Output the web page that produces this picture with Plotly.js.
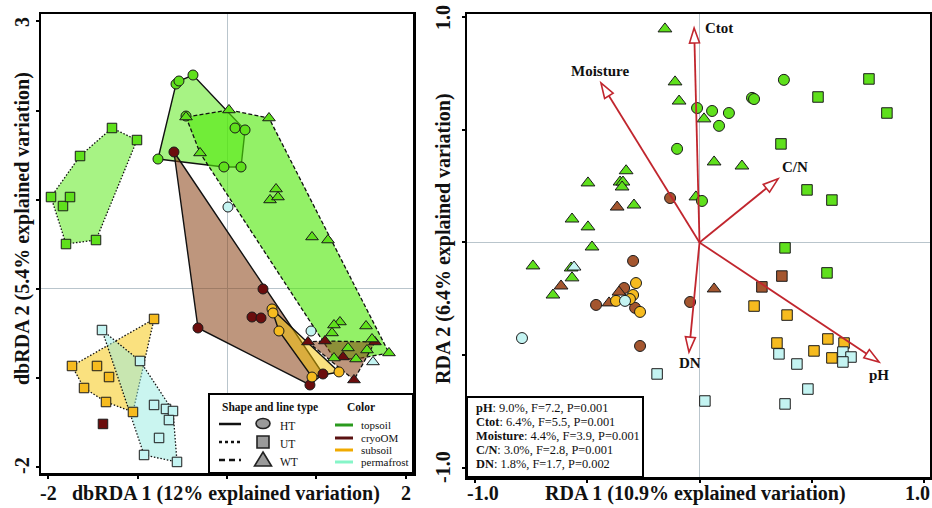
<!DOCTYPE html>
<html>
<head>
<meta charset="utf-8">
<script src="https://cdn.plot.ly/plotly-3.0.1.min.js"></script>
<style>
  html, body { margin: 0; padding: 0; background: #ffffff; }
  #chart { width: 932px; height: 508px; }
</style>
</head>
<body>
<div id="chart"></div>
<script>
// ---------------- dbRDA scores (left panel) ----------------
const dbTopHTx = [-0.571, -0.538, -0.381, -0.459, 0.090, 0.202, -0.773, -0.034, 0.157];
const dbTopHTy = [2.298, 2.332, 2.399, 1.939, 1.805, 1.783, 1.457, 1.368, 1.368];
const dbTopUTx = [-1.971, -1.837, -1.758, -1.646, -1.288, -1.008, -1.803, -1.467];
const dbTopUTy = [1.031, 0.930, 1.031, 1.491, 1.805, 1.670, 0.504, 0.549];
const dbTopWTx = [-0.459, 0.022, 0.470, -0.302, 0.549, 0.482, 0.571, 0.952, 1.131, 1.265, 1.198, 1.176, 1.557, 1.624, 1.355, 1.568, 1.814, 1.198, 1.445];
const dbTopWTy = [1.928, 2.007, 1.917, 1.525, 1.121, 0.998, 1.031, 0.583, 0.549, -0.370, -0.404, -0.493, -0.415, -0.561, -0.661, -0.684, -0.717, -0.774, -0.785];

const dbCryoHTx = [-0.594, 0.403, 0.280, 0.381, -0.325, 1.075, 0.929];
const dbCryoHTy = [1.536, 0.000, -0.314, -0.325, -0.437, -0.953, -1.076];
const dbCryoUTx = [-1.389];
const dbCryoUTy = [-1.513];
const dbCryoWTx = [0.907, 1.097, 1.299, 1.422, 1.657];
const dbCryoWTy = [-0.594, -0.583, -0.762, -1.020, -0.594];

const dbSubHTx = [0.504, 0.515, 0.582, 0.952, 1.254];
const dbSubHTy = [-0.224, -0.269, -0.471, -0.987, -0.930];
const dbSubUTx = [-0.817, -1.736, -1.456, -1.321, -1.601, -1.355, -1.053];
const dbSubUTy = [-0.336, -0.863, -0.863, -0.987, -1.110, -1.267, -1.379];

const dbPermHTx = [0.011, 0.941];
const dbPermHTy = [0.919, -0.471];
const dbPermUTx = [-1.400, -0.974, -0.817, -0.683, -0.605, -0.650, -0.761, -0.929, -0.560];
const dbPermUTy = [-0.460, -0.807, -1.300, -1.345, -1.368, -1.469, -1.670, -1.861, -1.939];
const dbPermWTx = [1.635];
const dbPermWTy = [-0.818];

// ---------------- RDA scores (right panel) ----------------
const rdaTopWTx = [-0.154, -0.109, -0.091, 0.020, 0.065, 0.189, -0.327, -0.354, -0.341, -0.345, -0.497, -0.292, -0.016, -0.568, -0.497, -0.479, -0.742, -0.572, -0.568, -0.653];
const rdaTopWTy = [0.947, 0.712, 0.627, 0.548, 0.357, 0.339, 0.318, 0.268, 0.268, 0.246, 0.264, 0.166, 0.202, 0.104, 0.069, -0.020, -0.104, -0.113, -0.157, -0.233];
const rdaTopHTx = [0.376, 0.234, 0.243, -0.011, 0.056, 0.131, 0.087, -0.100, 0.011];
const rdaTopHTy = [0.721, 0.641, 0.636, 0.596, 0.583, 0.574, 0.517, 0.415, 0.184];
const rdaTopUTx = [0.755, 0.528, 0.835, 0.363, 0.479, 0.590, 0.381, 0.568];
const rdaTopUTy = [0.725, 0.645, 0.574, 0.437, 0.233, 0.188, -0.024, -0.135];

const rdaCryoHTx = [-0.131, -0.296, -0.461, -0.336, -0.287, -0.265, -0.042];
const rdaCryoHTy = [0.197, -0.082, -0.277, -0.202, -0.290, -0.459, -0.264];
const rdaCryoWTx = [-0.367, -0.617, -0.403, -0.359, 0.065];
const rdaCryoWTy = [0.157, -0.193, -0.268, -0.220, -0.206];
const rdaCryoUTx = [0.367, 0.278];
const rdaCryoUTy = [-0.149, -0.197];

const rdaSubHTx = [-0.283, -0.296, -0.310, -0.372, -0.265];
const rdaSubHTy = [-0.180, -0.233, -0.251, -0.259, -0.308];
const rdaSubUTx = [0.243, 0.390, 0.345, 0.572, 0.644, 0.510, 0.590];
const rdaSubUTy = [-0.282, -0.322, -0.446, -0.428, -0.446, -0.481, -0.512];

const rdaPermHTx = [-0.332, -0.791];
const rdaPermHTy = [-0.259, -0.424];
const rdaPermWTx = [-0.559];
const rdaPermWTy = [-0.109];
const rdaPermUTx = [0.354, 0.434, 0.639, 0.675, 0.639, 0.483, 0.381, -0.189, 0.024];
const rdaPermUTy = [-0.494, -0.539, -0.486, -0.508, -0.530, -0.650, -0.716, -0.583, -0.703];

// ---------------- environmental vectors ----------------
const envNames = ['pH', 'Ctot', 'Moisture', 'C/N', 'DN'];
const envX = [0.800, -0.024, -0.439, 0.350, -0.047];
const envY = [-0.530, 0.951, 0.707, 0.282, -0.486];
const envPct = ['9.0%', '6.4%', '4.4%', '3.0%', '1.8%'];
const envF = ['7.2', '5.5', '3.9', '2.8', '1.7'];
const envP = ['0.001', '0.001', '0.001', '0.001', '0.002'];

// ---------------- legend entries ----------------
const typeNames = ['HT', 'UT', 'WT'];
const horizonNames = ['topsoil', 'cryoOM', 'subsoil', 'permafrost'];

// ---------------- styling ----------------
const W = 932, H = 508;
const FONT = 'Liberation Serif, Times New Roman, serif';
const COL = {
  top: '#5fe01c',
  cryoDark: '#6b0d0d',
  cryo: '#a4562f',
  sub: '#f6bb1f',
  perm: '#c4f4f2'
};
const FILL = {
  top: 'rgba(80,232,10,0.5)',
  topWT: 'rgba(80,232,10,0.62)',
  cryo: 'rgba(136,64,18,0.55)',
  sub: 'rgba(245,195,0,0.5)',
  perm: 'rgba(150,235,225,0.5)'
};
const legendLineCols = ['#2a9a1e', '#5a1212', '#f0aa00', '#86f5c8'];
const DASH = { HT: 'solid', UT: '1.5px,1.8px', WT: '4px,2.2px' };
const ARROW = '#c1262e';

// panel geometry (pixels) and axis ranges
const L = { x0: 41, x1: 413, y0: 14, y1: 473, xr: [-2.083, 2.083], yr: [-2.063, 3.083] };
const R = { x0: 467, x1: 930, y0: 14, y1: 477, xr: [-1.036, 1.027], yr: [-1.040, 1.013] };
const px = v => v / W;
const py = v => 1 - v / H;

// convex hull (monotone chain)
function hull(xs, ys) {
  const pts = xs.map((x, i) => [x, ys[i]]).sort((a, b) => a[0] - b[0] || a[1] - b[1]);
  const cross = (o, a, b) => (a[0] - o[0]) * (b[1] - o[1]) - (a[1] - o[1]) * (b[0] - o[0]);
  const lower = [], upper = [];
  for (const p of pts) {
    while (lower.length >= 2 && cross(lower[lower.length - 2], lower[lower.length - 1], p) <= 0) lower.pop();
    lower.push(p);
  }
  for (let i = pts.length - 1; i >= 0; i--) {
    const p = pts[i];
    while (upper.length >= 2 && cross(upper[upper.length - 2], upper[upper.length - 1], p) <= 0) upper.pop();
    upper.push(p);
  }
  const h = lower.slice(0, -1).concat(upper.slice(0, -1));
  h.push(h[0]);
  return { x: h.map(p => p[0]), y: h.map(p => p[1]) };
}

function hullTrace(xs, ys, fill, type) {
  const h = hull(xs, ys);
  return {
    type: 'scatter', mode: 'lines', x: h.x, y: h.y, xaxis: 'x', yaxis: 'y',
    fill: 'toself', fillcolor: fill,
    line: { color: '#111', width: type === 'HT' ? 1.4 : 1.3, dash: DASH[type] },
    hoverinfo: 'skip'
  };
}

const SYM = { HT: 'circle', UT: 'square', WT: 'triangle-up' };
function pts(xs, ys, color, type, panel) {
  const left = panel === 'L';
  const size = type === 'HT' ? (left ? 10 : 11) : type === 'UT' ? (left ? 9.5 : 10.5) : (left ? 11 : 12);
  return {
    type: 'scatter', mode: 'markers', x: xs, y: ys,
    xaxis: left ? 'x' : 'x2', yaxis: left ? 'y' : 'y2',
    marker: { symbol: SYM[type], size: size, color: color, line: { color: '#1a1a1a', width: 1 } },
    hoverinfo: 'x+y'
  };
}

const traces = [
  // hull polygons, left panel
  hullTrace(dbTopUTx, dbTopUTy, FILL.top, 'UT'),
  hullTrace(dbTopHTx, dbTopHTy, FILL.top, 'HT'),
  hullTrace(dbTopWTx, dbTopWTy, FILL.topWT, 'WT'),
  hullTrace(dbCryoHTx, dbCryoHTy, FILL.cryo, 'HT'),
  hullTrace(dbCryoWTx, dbCryoWTy, FILL.cryo, 'WT'),
  hullTrace(dbSubHTx, dbSubHTy, FILL.sub, 'HT'),
  hullTrace(dbSubUTx, dbSubUTy, FILL.sub, 'UT'),
  hullTrace(dbPermUTx, dbPermUTy, FILL.perm, 'UT'),
  // sample scores, left panel
  pts(dbCryoHTx, dbCryoHTy, COL.cryoDark, 'HT', 'L'),
  pts(dbCryoUTx, dbCryoUTy, COL.cryoDark, 'UT', 'L'),
  pts(dbCryoWTx, dbCryoWTy, COL.cryoDark, 'WT', 'L'),
  pts(dbTopHTx, dbTopHTy, COL.top, 'HT', 'L'),
  pts(dbTopUTx, dbTopUTy, COL.top, 'UT', 'L'),
  pts(dbTopWTx, dbTopWTy, COL.top, 'WT', 'L'),
  pts(dbSubHTx, dbSubHTy, COL.sub, 'HT', 'L'),
  pts(dbSubUTx, dbSubUTy, COL.sub, 'UT', 'L'),
  pts(dbPermHTx, dbPermHTy, COL.perm, 'HT', 'L'),
  pts(dbPermUTx, dbPermUTy, COL.perm, 'UT', 'L'),
  pts(dbPermWTx, dbPermWTy, COL.perm, 'WT', 'L'),
  // sample scores, right panel
  pts(rdaTopWTx, rdaTopWTy, COL.top, 'WT', 'R'),
  pts(rdaTopHTx, rdaTopHTy, COL.top, 'HT', 'R'),
  pts(rdaTopUTx, rdaTopUTy, COL.top, 'UT', 'R'),
  pts(rdaCryoHTx, rdaCryoHTy, COL.cryo, 'HT', 'R'),
  pts(rdaCryoWTx, rdaCryoWTy, COL.cryo, 'WT', 'R'),
  pts(rdaCryoUTx, rdaCryoUTy, COL.cryo, 'UT', 'R'),
  pts(rdaSubHTx, rdaSubHTy, COL.sub, 'HT', 'R'),
  pts(rdaSubUTx, rdaSubUTy, COL.sub, 'UT', 'R'),
  pts(rdaPermWTx, rdaPermWTy, COL.perm, 'WT', 'R'),
  pts(rdaPermHTx, rdaPermHTy, COL.perm, 'HT', 'R'),
  pts(rdaPermUTx, rdaPermUTy, COL.perm, 'UT', 'R')
];

// ---------------- shapes & annotations ----------------
const shapes = [];
const annotations = [];
const txt = (x, y, text, size, opts = {}) => annotations.push(Object.assign({
  xref: 'paper', yref: 'paper', x: px(x), y: py(y), text: text, showarrow: false,
  font: { family: FONT, size: size, color: '#111' }, xanchor: 'center', yanchor: 'middle'
}, opts));

// environmental arrows with open heads
const kx = (R.x1 - R.x0) / (R.xr[1] - R.xr[0]);
const ky = (R.y1 - R.y0) / (R.yr[1] - R.yr[0]);
const headLen = 15, headHalf = 5;
const labelShift = { 'pH': [0, -13], 'Ctot': [25, 0], 'Moisture': [-1, 12], 'C/N': [17, 12], 'DN': [1, -11] };
envNames.forEach((name, i) => {
  const tx = envX[i], ty = envY[i];
  const dx = tx * kx, dy = ty * ky, len = Math.hypot(dx, dy);
  const ux = dx / len, uy = dy / len;
  const bx = dx - ux * headLen, by = dy - uy * headLen;
  const nx = -uy, ny = ux;
  const v1 = [(bx + nx * headHalf) / kx, (by + ny * headHalf) / ky];
  const v2 = [(bx - nx * headHalf) / kx, (by - ny * headHalf) / ky];
  shapes.push({ type: 'line', xref: 'x2', yref: 'y2', x0: 0, y0: 0, x1: bx / kx, y1: by / ky,
    line: { color: ARROW, width: 1.8 } });
  shapes.push({ type: 'path', xref: 'x2', yref: 'y2',
    path: `M${tx},${ty} L${v1[0]},${v1[1]} L${v2[0]},${v2[1]} Z`,
    fillcolor: '#ffffff', line: { color: ARROW, width: 1.6 } });
  annotations.push({ xref: 'x2', yref: 'y2', x: tx, y: ty, text: '<b>' + name + '</b>', showarrow: false,
    xshift: labelShift[name][0], yshift: labelShift[name][1],
    font: { family: FONT, size: 15, color: '#111' } });
});

// statistics box (right panel)
shapes.push({ type: 'rect', xref: 'paper', yref: 'paper', x0: px(467), x1: px(643), y0: py(397), y1: py(477),
  fillcolor: '#ffffff', line: { color: '#000', width: 2 }, layer: 'above' });
envNames.forEach((name, i) => {
  txt(474, 408 + i * 14, `<b>${name}</b>: ${envPct[i]}, F=${envF[i]}, P=${envP[i]}`, 12.4, { xanchor: 'left' });
});

// legend box (left panel)
shapes.push({ type: 'rect', xref: 'paper', yref: 'paper', x0: px(209), x1: px(413), y0: py(394), y1: py(473),
  fillcolor: '#ffffff', line: { color: '#000', width: 2 }, layer: 'above' });
txt(220, 407, '<b>Shape and line type</b>', 11.5, { xanchor: 'left' });
txt(361, 407, '<b>Color</b>', 11.5);
const typeRows = [424, 442, 460];
const typeDash = ['solid', 'dot', '6px,4px'];
typeNames.forEach((t, i) => {
  const yy = typeRows[i];
  shapes.push({ type: 'line', xref: 'paper', yref: 'paper', x0: px(219), x1: px(241), y0: py(yy), y1: py(yy),
    line: { color: '#111', width: 2.5, dash: typeDash[i] }, layer: 'above' });
  txt(278, yy + 2, t, 11.5, { xanchor: 'left' });
});
const icon = { fillcolor: '#9a9a9a', line: { color: '#222', width: 1.6 }, layer: 'above', xref: 'paper', yref: 'paper' };
shapes.push(Object.assign({ type: 'circle', x0: px(256), x1: px(270), y0: py(428.5), y1: py(418.5) }, icon));
shapes.push(Object.assign({ type: 'rect', x0: px(257), x1: px(269), y0: py(448), y1: py(436) }, icon));
shapes.push(Object.assign({ type: 'path',
  path: `M${px(263)},${py(452)} L${px(271.5)},${py(466)} L${px(254.5)},${py(466)} Z` }, icon));
const colorRows = [425, 438, 450, 462];
horizonNames.forEach((h, i) => {
  const yy = colorRows[i];
  shapes.push({ type: 'line', xref: 'paper', yref: 'paper', x0: px(335), x1: px(353), y0: py(yy), y1: py(yy),
    line: { color: legendLineCols[i], width: 3 }, layer: 'above' });
  txt(359, yy, h, 11, { xanchor: 'left' });
});

// axis titles and end tick labels
const big = 20;
txt(48, 493, '<b>-2</b>', big);
txt(406, 493, '<b>2</b>', big);
txt(226, 493, '<b>dbRDA 1 (12% explained variation)</b>', big);
txt(22, 22, '<b>3</b>', big, { textangle: -90 });
txt(22, 466, '<b>-2</b>', big, { textangle: -90 });
txt(22, 229, '<b>dbRDA 2 (5.4% explained variation)</b>', big, { textangle: -90 });
txt(483, 493, '<b>-1.0</b>', big);
txt(917, 493, '<b>1.0</b>', big);
txt(695, 493, '<b>RDA 1 (10.9% explained variation)</b>', big);
txt(443, 18, '<b>1.0</b>', big, { textangle: -90 });
txt(443, 467, '<b>-1.0</b>', big, { textangle: -90 });
txt(443, 239, '<b>RDA 2 (6.4% explained variation)</b>', big, { textangle: -90 });

const axisBase = {
  showline: true, linecolor: '#000', linewidth: 2.5, mirror: true,
  ticks: 'outside', ticklen: 3, tickwidth: 2, tickcolor: '#000',
  showticklabels: false, showgrid: false,
  zeroline: true, zerolinecolor: '#b9c5cc', zerolinewidth: 1, fixedrange: true
};

const layout = {
  width: W, height: H, margin: { l: 0, r: 0, t: 0, b: 0 },
  paper_bgcolor: '#ffffff', plot_bgcolor: '#ffffff', showlegend: false,
  xaxis: Object.assign({}, axisBase, { domain: [px(L.x0), px(L.x1)], range: L.xr, tickvals: [-2, -1, 0, 1, 2], anchor: 'y' }),
  yaxis: Object.assign({}, axisBase, { domain: [py(L.y1), py(L.y0)], range: L.yr, tickvals: [-2, -1, 0, 1, 2, 3], anchor: 'x' }),
  xaxis2: Object.assign({}, axisBase, { domain: [px(R.x0), px(R.x1)], range: R.xr, tickvals: [-1, -0.5, 0, 0.5, 1], anchor: 'y2' }),
  yaxis2: Object.assign({}, axisBase, { domain: [py(R.y1), py(R.y0)], range: R.yr, tickvals: [-1, -0.5, 0, 0.5, 1], anchor: 'x2' }),
  shapes: shapes,
  annotations: annotations
};

Plotly.newPlot('chart', traces, layout, { displayModeBar: false, staticPlot: true });
</script>
</body>
</html>
